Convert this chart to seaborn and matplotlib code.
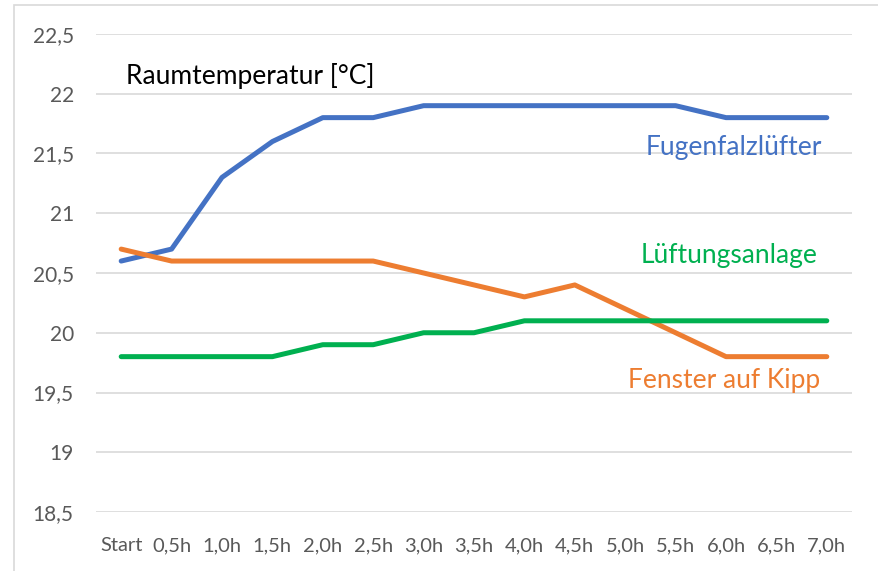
import numpy as np
import pandas as pd
import seaborn as sns
import matplotlib.pyplot as plt
from matplotlib.patches import Rectangle

times = ["Start", "0,5h", "1,0h", "1,5h", "2,0h", "2,5h", "3,0h", "3,5h",
         "4,0h", "4,5h", "5,0h", "5,5h", "6,0h", "6,5h", "7,0h"]
fugenfalz = [20.6, 20.7, 21.3, 21.6, 21.8, 21.8, 21.9, 21.9, 21.9, 21.9, 21.9, 21.9, 21.8, 21.8, 21.8]
kipp = [20.7, 20.6, 20.6, 20.6, 20.6, 20.6, 20.5, 20.4, 20.3, 20.4, 20.2, 20.0, 19.8, 19.8, 19.8]
anlage = [19.8, 19.8, 19.8, 19.8, 19.9, 19.9, 20.0, 20.0, 20.1, 20.1, 20.1, 20.1, 20.1, 20.1, 20.1]
yticks = [18.5, 19, 19.5, 20, 20.5, 21, 21.5, 22, 22.5]

series = {"Fugenfalzlüfter": fugenfalz, "Fenster auf Kipp": kipp, "Lüftungsanlage": anlage}
colors = {"Fugenfalzlüfter": "#4472C4", "Fenster auf Kipp": "#ED7D31", "Lüftungsanlage": "#00B050"}

df = pd.DataFrame({"Zeit": times, **series}).melt(id_vars="Zeit", var_name="Variante", value_name="Temp")

sns.set_style("white")
plt.rcParams['font.family'] = ['Lato', 'DejaVu Sans']

fig = plt.figure(figsize=(8.79, 5.71), dpi=100)
ax = fig.add_axes([0.1092, 0.1033, 0.8601, 0.8372])

sns.lineplot(data=df, x="Zeit", y="Temp", hue="Variante", palette=colors,
             linewidth=3.6, sort=False, legend=False, ax=ax,
             solid_capstyle='round')

ax.set_xlim(-0.5, len(times) - 0.5)
ax.set_ylim(yticks[0], yticks[-1])
ax.set_yticks(yticks)
ax.set_yticklabels([f"{v:g}".replace(".", ",") for v in yticks])
ax.set_xticks(range(len(times)))
ax.set_xticklabels(times)
ax.grid(axis='y', color='#d9d9d9', linewidth=1.2)
ax.set_axisbelow(True)
for s in ax.spines.values():
    s.set_visible(False)
ax.tick_params(axis='y', length=0, pad=16, labelsize=15, labelcolor='#595959')
ax.tick_params(axis='x', length=0, pad=18, labelsize=14.5, labelcolor='#595959')
ax.set(xlabel=None, ylabel=None)

ax.text(0.04, 0.9125, "Raumtemperatur [°C]", transform=ax.transAxes,
        fontsize=19, color='black', va='center', ha='left')
ax.text(0.96, 0.762, "Fugenfalzlüfter", transform=ax.transAxes,
        fontsize=19, color=colors["Fugenfalzlüfter"], va='center', ha='right')
ax.text(0.955, 0.537, "Lüftungsanlage", transform=ax.transAxes,
        fontsize=19, color=colors["Lüftungsanlage"], va='center', ha='right')
ax.text(0.958, 0.275, "Fenster auf Kipp", transform=ax.transAxes,
        fontsize=19, color=colors["Fenster auf Kipp"], va='center', ha='right')

fig.patches.append(Rectangle((14 / 879, -0.05), 1.1, 1 - 5 / 571 + 0.05,
                             transform=fig.transFigure, fill=False,
                             edgecolor='#d9d9d9', linewidth=1.2))

fig.savefig("out.png", dpi=100)
